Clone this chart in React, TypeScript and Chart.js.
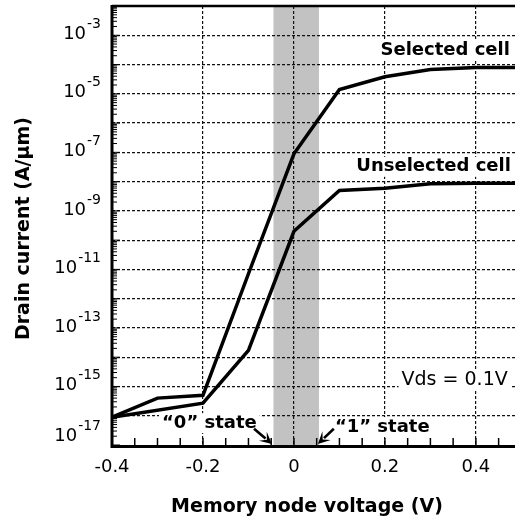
import React, { useEffect, useRef } from 'react';
import { Chart, registerables } from 'chart.js';

Chart.register(...registerables);

// ---- data ----
const voltageSelected = [-0.4, -0.3, -0.2, -0.1, 0.0, 0.1, 0.2, 0.3, 0.4, 0.5];
const currentSelected = [8.9e-17, 4.0e-16, 5.0e-16, 7.1e-12, 8.9e-8, 1.4e-5, 3.8e-5, 6.8e-5, 7.9e-5, 7.9e-5];

const voltageUnselected = [-0.4, -0.2, -0.1, 0.0, 0.1, 0.2, 0.3, 0.4, 0.5];
const currentUnselected = [8.9e-17, 2.7e-16, 1.7e-14, 2.0e-10, 5.0e-9, 5.9e-9, 8.5e-9, 8.7e-9, 8.7e-9];

const xTickValues = [-0.4, -0.2, 0, 0.2, 0.4];
const xTickLabels = ['-0.4', '-0.2', '0', '0.2', '0.4'];
const yTickValues = [1e-17, 1e-15, 1e-13, 1e-11, 1e-9, 1e-7, 1e-5, 1e-3];
const yTickExponents = ['-17', '-15', '-13', '-11', '-9', '-7', '-5', '-3'];
const yDecades = [1e-17, 1e-16, 1e-15, 1e-14, 1e-13, 1e-12, 1e-11, 1e-10, 1e-9, 1e-8, 1e-7, 1e-6, 1e-5, 1e-4, 1e-3, 1e-2];

const bandRange = [-0.045, 0.055];

const FONT = '"DejaVu Sans", "Liberation Sans", sans-serif';

const isMajorX = (v: number) => Math.round(v * 100) % 20 === 0;

const xMinorTicks: number[] = [];
for (let k = 0; k <= 17; k++) xMinorTicks.push((-40 + 5 * k) / 100);

function drawArrow(ctx: CanvasRenderingContext2D, x0: number, y0: number, x1: number, y1: number) {
  const ang = Math.atan2(y1 - y0, x1 - x0);
  const hl = 12, hw = 6;
  const c = Math.cos(ang), s = Math.sin(ang);
  ctx.save();
  ctx.strokeStyle = '#000';
  ctx.fillStyle = '#000';
  ctx.lineWidth = 2.6;
  ctx.beginPath();
  ctx.moveTo(x0, y0);
  ctx.lineTo(x1 - c * hl * 0.7, y1 - s * hl * 0.7);
  ctx.stroke();
  ctx.beginPath();
  ctx.moveTo(x1, y1);
  ctx.lineTo(x1 - c * hl - s * hw, y1 - s * hl + c * hw);
  ctx.lineTo(x1 - c * hl * 0.55, y1 - s * hl * 0.55);
  ctx.lineTo(x1 - c * hl + s * hw, y1 - s * hl - c * hw);
  ctx.closePath();
  ctx.fill();
  ctx.restore();
}

type Note = { text: string; x: number; y: number; align: CanvasTextAlign; bold: boolean; size: number };
const notes: Note[] = [
  { text: 'Selected cell', x: 0.4747, y: 3.1e-4, align: 'right', bold: true, size: 18 },
  { text: 'Unselected cell', x: 0.477, y: 3.2e-8, align: 'right', bold: true, size: 18 },
  { text: 'Vds = 0.1V', x: 0.470, y: 1.66e-15, align: 'right', bold: false, size: 19 },
  { text: '\u201C0\u201D state', x: -0.290, y: 5.6e-17, align: 'left', bold: true, size: 18 },
  { text: '\u201C1\u201D state', x: 0.090, y: 4.1e-17, align: 'left', bold: true, size: 18 },
];

const decor = {
  id: 'decor',
  beforeDraw(chart: any) {
    const { ctx, chartArea: a, scales } = chart;
    const x = scales.x;
    ctx.save();
    ctx.fillStyle = '#c2c2c2';
    const l = x.getPixelForValue(bandRange[0]);
    const r = x.getPixelForValue(bandRange[1]);
    ctx.fillRect(l, a.top, r - l, a.bottom - a.top);
    ctx.restore();
  },
  beforeDatasetsDraw(chart: any) {
    const { ctx, scales } = chart;
    ctx.save();
    ctx.fillStyle = '#fff';
    for (const n of notes) {
      ctx.font = `${n.bold ? 'bold ' : ''}${n.size}px ${FONT}`;
      const w = ctx.measureText(n.text).width;
      const px = scales.x.getPixelForValue(n.x);
      const py = scales.y.getPixelForValue(n.y);
      const left = n.align === 'right' ? px - w : px;
      ctx.fillRect(left - 3, py - 10, w + 6, 20);
    }
    ctx.restore();
  },
  afterDatasetsDraw(chart: any) {
    const { ctx, chartArea: a, scales } = chart;
    const x = scales.x, y = scales.y;
    ctx.save();
    // notes
    ctx.fillStyle = '#000';
    ctx.textBaseline = 'middle';
    for (const n of notes) {
      ctx.font = `${n.bold ? 'bold ' : ''}${n.size}px ${FONT}`;
      ctx.textAlign = n.align;
      ctx.fillText(n.text, x.getPixelForValue(n.x), y.getPixelForValue(n.y));
    }
    // arrows
    drawArrow(ctx, x.getPixelForValue(-0.0877), y.getPixelForValue(3.6e-17), x.getPixelForValue(-0.0484), a.bottom - 1);
    drawArrow(ctx, x.getPixelForValue(0.0877), y.getPixelForValue(3.6e-17), x.getPixelForValue(0.0527), a.bottom - 1);

    // borders
    ctx.strokeStyle = '#000';
    ctx.lineCap = 'butt';
    ctx.lineWidth = 3;
    ctx.beginPath();
    ctx.moveTo(a.left, a.top - 1);
    ctx.lineTo(a.left, a.bottom + 1.5);
    ctx.lineTo(a.right, a.bottom + 1.5);
    ctx.stroke();
    ctx.lineWidth = 2.5;
    ctx.beginPath();
    ctx.moveTo(a.left, a.top);
    ctx.lineTo(a.right, a.top);
    ctx.stroke();

    // x inner ticks
    ctx.lineWidth = 1.5;
    for (const v of xMinorTicks) {
      const px = x.getPixelForValue(v);
      ctx.beginPath();
      ctx.moveTo(px, a.bottom);
      ctx.lineTo(px, a.bottom - 7);
      ctx.stroke();
    }
    // y inner ticks (log minor)
    ctx.lineWidth = 1;
    for (const d of yDecades) {
      for (let m = 1; m <= 9; m++) {
        const val = d * m;
        if (val > 1e-2 * 1.0001) continue;
        const py = y.getPixelForValue(val);
        ctx.beginPath();
        ctx.moveTo(a.left, py);
        ctx.lineTo(a.left + (m === 1 ? 8 : 5), py);
        ctx.stroke();
      }
    }

    // y tick labels 10^n
    ctx.textBaseline = 'middle';
    ctx.textAlign = 'right';
    const rightEdge = a.left - 11;
    yTickValues.forEach((v, i) => {
      const py = Math.min(y.getPixelForValue(v) - 1, a.bottom - 9);
      ctx.font = `14px ${FONT}`;
      const ew = ctx.measureText(yTickExponents[i]).width;
      ctx.fillText(yTickExponents[i], rightEdge, py - 10);
      ctx.font = `18px ${FONT}`;
      ctx.fillText('10', rightEdge - ew - 1, py);
    });

    // x tick labels
    ctx.textAlign = 'center';
    ctx.font = `18px ${FONT}`;
    xTickValues.forEach((v, i) => {
      ctx.fillText(xTickLabels[i], x.getPixelForValue(v), a.bottom + 22);
    });

    // axis titles
    ctx.font = `bold 19px ${FONT}`;
    ctx.fillText('Memory node voltage (V)', x.getPixelForValue(0.0286), a.bottom + 62);
    ctx.save();
    ctx.translate(24, (a.top + a.bottom) / 2 + 3);
    ctx.rotate(-Math.PI / 2);
    ctx.fillText('Drain current (A/\u03BCm)', 0, 0);
    ctx.restore();

    ctx.restore();
  },
};

export default function App() {
  const ref = useRef<HTMLCanvasElement | null>(null);
  useEffect(() => {
    document.body.style.margin = '0';
    const canvas = ref.current;
    if (!canvas) return;
    const chart = new Chart(canvas, {
      type: 'line',
      data: {
        datasets: [
          {
            label: 'Selected cell',
            data: voltageSelected.map((v, i) => ({ x: v, y: currentSelected[i] })),
            borderColor: '#000',
            borderWidth: 3.5,
            pointRadius: 0,
            tension: 0,
            fill: false,
          },
          {
            label: 'Unselected cell',
            data: voltageUnselected.map((v, i) => ({ x: v, y: currentUnselected[i] })),
            borderColor: '#000',
            borderWidth: 3.5,
            pointRadius: 0,
            tension: 0,
            fill: false,
          },
        ],
      },
      options: {
        responsive: false,
        animation: false,
        devicePixelRatio: 1,
        events: [],
        layout: { padding: { top: 6, left: 0, right: 0, bottom: 0 } },
        plugins: { legend: { display: false }, tooltip: { enabled: false }, title: { display: false } },
        scales: {
          x: {
            type: 'linear',
            min: -0.4,
            max: 0.486,
            afterBuildTicks: (s: any) => {
              s.ticks = xMinorTicks.map((v) => ({ value: v }));
            },
            afterFit: (s: any) => {
              s.height = 74;
            },
            ticks: { display: false },
            grid: {
              drawTicks: false,
              lineWidth: 1.2,
              color: (c: any) => {
                const v = c.tick ? c.tick.value : 0;
                return isMajorX(v) && v > -0.39 ? '#111' : 'rgba(0,0,0,0)';
              },
            },
            border: { display: false, dash: [3, 2] },
          },
          y: {
            type: 'logarithmic',
            min: 1e-17,
            max: 1e-2,
            afterBuildTicks: (s: any) => {
              s.ticks = yDecades.map((v) => ({ value: v }));
            },
            afterFit: (s: any) => {
              s.width = 112;
            },
            ticks: { display: false },
            grid: {
              drawTicks: false,
              lineWidth: 1.2,
              color: (c: any) => {
                const v = c.tick ? c.tick.value : 0;
                return v > 1.5e-17 && v < 0.9e-2 ? '#111' : 'rgba(0,0,0,0)';
              },
            },
            border: { display: false, dash: [3, 2] },
          },
        },
      },
      plugins: [decor],
    } as any);
    return () => chart.destroy();
  }, []);
  return <canvas ref={ref} width={515} height={519} style={{ display: 'block' }} />;
}
